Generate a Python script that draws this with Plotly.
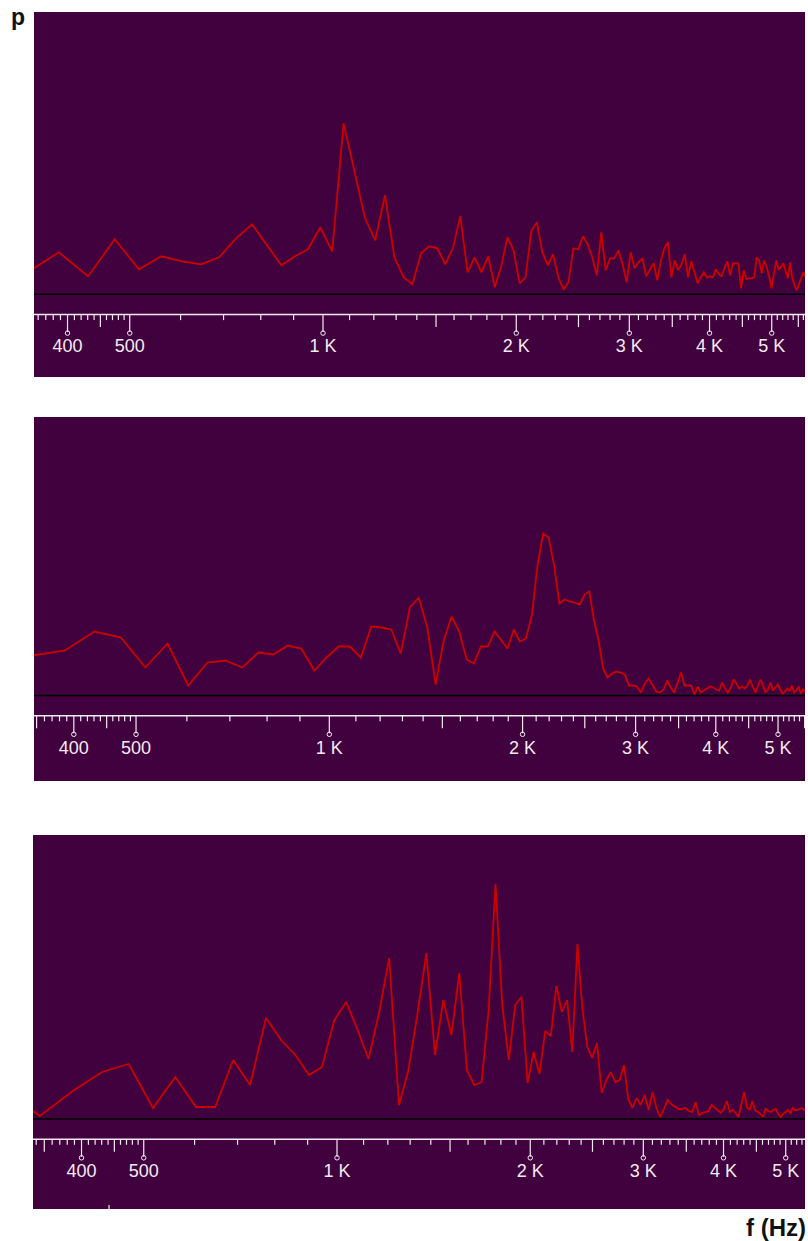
import plotly.graph_objects as go

# ---------------- data ----------------
BIN_HZ = 44100 / 1024          # FFT bin width in Hz

top_first_bin = 8
top_vals = [21, 42, 18, 55, 25, 38, 33, 30, 37, 56,
            70, 49, 29, 38, 45, 67, 43, 171, 124, 76,
            54, 99, 37, 17, 10, 41, 48, 46, 30, 46,
            78, 22, 37, 22, 38, 7, 28, 57, 44, 11,
            17, 63, 72, 42, 29, 40, 17, 5, 12, 46,
            45, 58, 50, 37, 19, 62, 24, 36, 36, 44,
            30, 12, 42, 26, 32, 36, 18, 25, 31, 14,
            34, 46, 52, 17, 34, 24, 30, 40, 17, 33,
            22, 11, 17, 22, 17, 18, 17, 25, 20, 18,
            26, 33, 19, 31, 31, 31, 6, 24, 15, 16,
            16, 17, 37, 34, 21, 34, 27, 18, 6, 22,
            34, 25, 27, 31, 22, 16, 32, 16, 9, 4,
            10, 17, 22, 18, 16]

mid_first_bin = 8
mid_vals = [40, 45, 64, 58, 28, 52, 10, 33, 35, 28,
            43, 41, 50, 47, 25, 38, 49, 49, 38, 69,
            68, 66, 42, 88, 98, 68, 11, 55, 79, 64,
            36, 32, 49, 49, 64, 55, 47, 66, 54, 57,
            80, 130, 162, 158, 130, 92, 96, 94, 93, 91,
            101, 104, 75, 55, 27, 18, 22, 24, 23, 21,
            10, 10, 9, 3, 12, 17, 10, 4, 3, 6,
            15, 8, 3, 12, 23, 10, 10, 10, 1, 9,
            3, 5, 7, 9, 8, 6, 5, 13, 7, 3,
            8, 16, 12, 7, 9, 7, 10, 16, 9, 3,
            9, 16, 10, 3, 6, 13, 5, 8, 11, 6,
            2, 4, 7, 5, 10, 3, 5, 9, 2, 6,
            4, 5]

bot_first_bin = 7
bot_vals = [29, 3, 28, 47, 55, 11, 42, 12, 12, 59,
            34, 101, 79, 64, 44, 52, 99, 117, 89, 60,
            106, 161, 14, 49, 106, 166, 64, 119, 84, 146,
            49, 34, 37, 109, 235, 114, 59, 114, 122, 36,
            67, 45, 88, 83, 133, 107, 119, 67, 175, 110,
            72, 61, 76, 26, 39, 47, 37, 39, 54, 20,
            11, 21, 14, 24, 9, 27, 11, 2, 10, 19,
            15, 12, 10, 10, 11, 8, 7, 17, 4, 6,
            7, 8, 14, 11, 8, 6, 10, 18, 7, 9,
            6, 2, 14, 27, 12, 9, 18, 9, 7, 5,
            2, 10, 8, 7, 9, 10, 5, 2, 5, 7,
            9, 6, 11, 9, 9, 10, 11, 9, 10, 9]

tick_major = [400, 500, 1000, 2000, 3000, 4000, 5000]
tick_labels = ["400", "500", "1 K", "2 K", "3 K", "4 K", "5 K"]
tick_medium = [350, 450, 1500, 2500, 3500, 4500, 5500]
tick_minor = ([f for f in range(330, 500, 10) if f not in (350, 400, 450)] +
              [f for f in range(600, 5800, 100) if f not in tick_major + tick_medium])

# ---------------- layout geometry (pixels) ----------------
W, H = 808, 1241
PX_PER_DEC = 642.0
panels = [
    dict(vals=top_vals, first=top_first_bin, left=34, right=805, top=12, bottom=377, base=294.3, k1=323.0),
    dict(vals=mid_vals, first=mid_first_bin, left=34, right=805, top=417, bottom=781, base=695.5, k1=329.3),
    dict(vals=bot_vals, first=bot_first_bin, left=33, right=805, top=835, bottom=1209, base=1119.0, k1=337.0),
]
AXIS_OFF = 20.3      # white axis line below baseline (px)
LABEL_OFF = 53.5     # label centre below baseline (px)
BG = "#41003e"
LINE_RED = "#cc0000"
TICK_COL = "#f2ecf2"

fig = go.Figure()
layout = dict(width=W, height=H, margin=dict(l=0, r=0, t=0, b=0), autosize=False,
              paper_bgcolor="white", plot_bgcolor=BG, showlegend=False,
              hovermode=False, shapes=[], annotations=[])

for i, p in enumerate(panels):
    n = "" if i == 0 else str(i + 1)
    xa, ya = "x" + n, "y" + n
    lo = 3 + (p["left"] - p["k1"]) / PX_PER_DEC
    hi = 3 + (p["right"] - p["k1"]) / PX_PER_DEC
    ylo = p["base"] - p["bottom"]
    yhi = p["base"] - p["top"]
    common = dict(showgrid=False, zeroline=False, showline=False, showticklabels=False, ticks="")
    layout["xaxis" + n] = dict(type="log", range=[lo, hi], anchor=ya,
                               domain=[p["left"] / W, p["right"] / W], **common)
    layout["yaxis" + n] = dict(range=[ylo, yhi], anchor=xa,
                               domain=[1 - p["bottom"] / H, 1 - p["top"] / H], **common)

    # black baseline and white axis line
    layout["shapes"].append(dict(type="line", xref=xa + " domain", yref=ya, x0=0, x1=1, y0=0, y1=0,
                                 line=dict(color="black", width=1.6), layer="below"))
    A = -AXIS_OFF
    layout["shapes"].append(dict(type="line", xref=xa + " domain", yref=ya, x0=0, x1=1, y0=A, y1=A,
                                 line=dict(color=TICK_COL, width=1.5)))

    # spectrum line
    freqs = [(p["first"] + j) * BIN_HZ for j in range(len(p["vals"]))]
    fig.add_trace(go.Scatter(x=freqs, y=p["vals"], mode="lines", xaxis=xa, yaxis=ya,
                             line=dict(color=LINE_RED, width=1.8), hoverinfo="skip"))

    # tick marks
    tx, ty = [], []
    for f in tick_minor:
        tx += [f, f, None]; ty += [A, A - 5.5, None]
    for f in tick_medium:
        tx += [f, f, None]; ty += [A, A - 12.5, None]
    for f in tick_major:
        tx += [f, f, None]; ty += [A, A - 17.5, None]
    fig.add_trace(go.Scatter(x=tx, y=ty, mode="lines", xaxis=xa, yaxis=ya,
                             line=dict(color=TICK_COL, width=1.2), hoverinfo="skip"))
    fig.add_trace(go.Scatter(x=tick_major, y=[A - 18.5] * len(tick_major), mode="markers",
                             xaxis=xa, yaxis=ya, hoverinfo="skip",
                             marker=dict(symbol="circle-open", size=4.5, color=TICK_COL,
                                         line=dict(width=1, color=TICK_COL))))
    fig.add_trace(go.Scatter(x=tick_major, y=[-LABEL_OFF] * len(tick_major), mode="text",
                             text=tick_labels, textposition="middle center", xaxis=xa, yaxis=ya,
                             textfont=dict(family="Liberation Sans", size=18, color=TICK_COL),
                             hoverinfo="skip"))

# small cursor mark at the bottom of the last panel
layout["shapes"].append(dict(type="line", xref="paper", yref="paper",
                             x0=109 / W, x1=109 / W, y0=1 - 1209 / H, y1=1 - 1205 / H,
                             line=dict(color=TICK_COL, width=1.2)))

layout["annotations"] += [
    dict(text="<b>p</b>", xref="paper", yref="paper", x=18 / W, y=1 - 17 / H,
         xanchor="center", yanchor="middle", showarrow=False,
         font=dict(family="Liberation Sans", size=23, color="#111111")),
    dict(text="<b>f (Hz)</b>", xref="paper", yref="paper", x=808 / W, y=1 - 1227 / H,
         xanchor="right", yanchor="middle", showarrow=False,
         font=dict(family="Liberation Sans", size=24, color="#111111")),
]

fig.update_layout(**layout)
fig.write_html("out.html", config={"displayModeBar": False})
